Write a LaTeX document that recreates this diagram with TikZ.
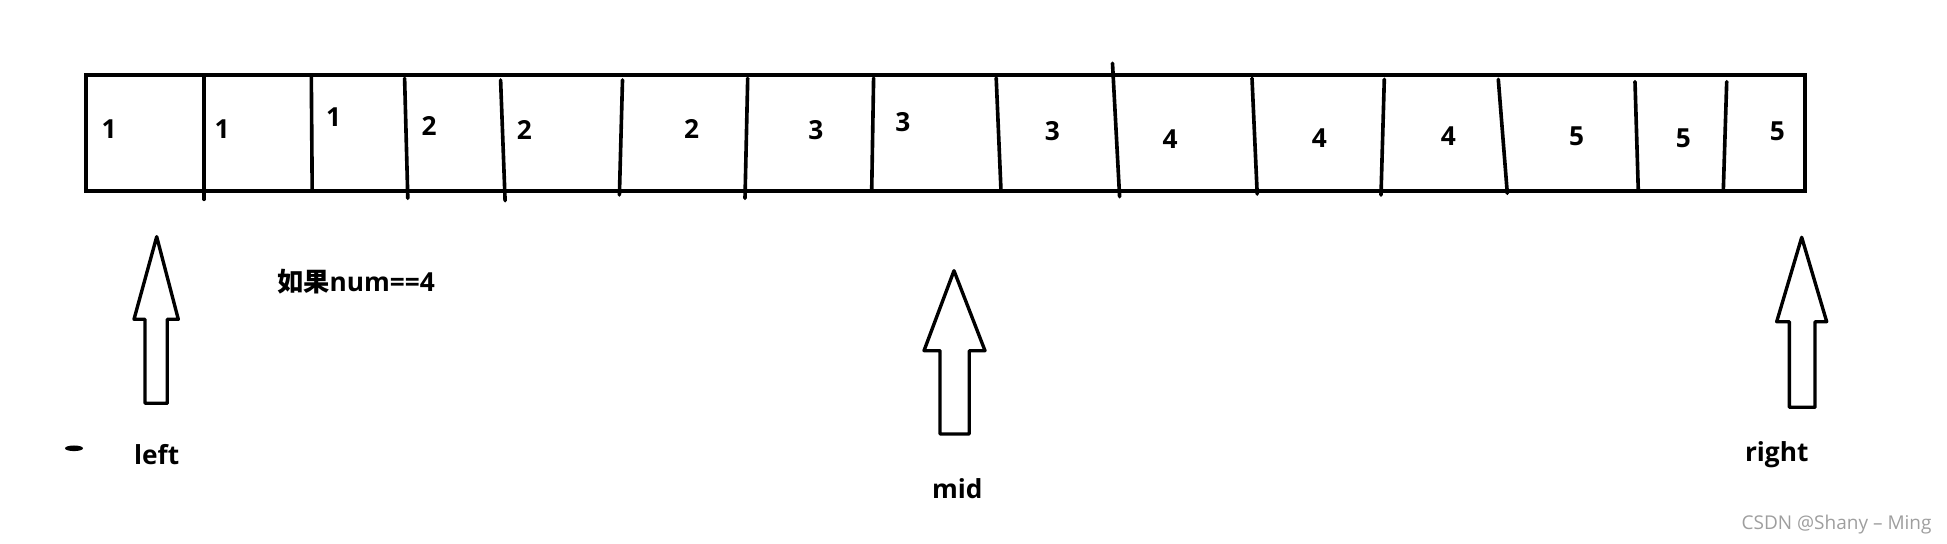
\documentclass[tikz,border=0pt]{standalone}
\usepackage{fontspec}
\setmainfont{Open Sans}
\newfontfamily\cjk{Noto Sans CJK SC}
\begin{document}
\begin{tikzpicture}[x=0.4pt,y=-0.4pt,
  boxline/.style={line width=1.45pt},
  divider/.style={line width=1.45pt, line cap=round},
  blockarrow/.style={line width=1.35pt, line join=round},
  digit/.style={inner sep=0pt, font=\fontsize{10.5}{12}\selectfont\bfseries},
  pointer/.style={inner sep=0pt, anchor=base, font=\fontsize{10.5}{12}\selectfont\bfseries}]
\useasboundingbox (0,0) rectangle (1947,544);
% array box
\draw[boxline] (86,75) rectangle (1805,191);
% dividers
\draw[divider] (204.2,75) -- (204.2,199.3);
\draw[divider] (311.3,75) -- (312.2,191);
\draw[divider] (404.6,78.3) -- (407.8,198.3);
\draw[divider] (500.6,80) -- (505.1,200.7);
\draw[divider] (622.5,80) -- (619.4,195);
\draw[divider] (747.7,78.3) -- (745,198.3);
\draw[divider] (873.6,78) -- (871.7,191);
\draw[divider] (996.2,78) -- (1001,191);
\draw[divider] (1112.5,63.3) -- (1119.6,196.7);
\draw[divider] (1252,78.3) -- (1257.2,194);
\draw[divider] (1384.3,79.3) -- (1381,195);
\draw[divider] (1498.3,79.3) -- (1507.3,193.3);
\draw[divider] (1635,81.7) -- (1638.3,191);
\draw[divider] (1726.7,81.7) -- (1723.3,191);
% values
\node[digit] (v1)  at (109.1,129.3) {1};
\node[digit] (v2)  at (222,129.3) {1};
\node[digit] (v3)  at (333.7,116.7) {1};
\node[digit] (v4)  at (429.2,126) {2};
\node[digit] (v5)  at (524.3,130) {2};
\node[digit] (v6)  at (691.7,129.3) {2};
\node[digit] (v7)  at (815.9,130) {3};
\node[digit] (v8)  at (902.9,121.7) {3};
\node[digit] (v9)  at (1052.4,130.7) {3};
\node[digit] (v10) at (1170.2,139.3) {4};
\node[digit] (v11) at (1319.3,138.3) {4};
\node[digit] (v12) at (1448.3,136) {4};
\node[digit] (v13) at (1576.7,136) {5};
\node[digit] (v14) at (1683.3,138.3) {5};
\node[digit] (v15) at (1777.3,131.7) {5};
% block arrows
\draw[blockarrow] (156.7,236.7) -- (178.3,319.3) -- (167.3,319.3) -- (167.3,403.3)
  -- (145,403.3) -- (145,319.3) -- (134,319.3) -- cycle;
\draw[blockarrow] (954,270.7) -- (985,350.7) -- (969.3,350.7) -- (969.3,434)
  -- (940,434) -- (940,350.7) -- (924,350.7) -- cycle;
\draw[blockarrow] (1801.7,237.3) -- (1826.7,321.7) -- (1815,321.7) -- (1815,407.3)
  -- (1789.3,407.3) -- (1789.3,321.7) -- (1776.7,321.7) -- cycle;
% labels
\node[pointer] (lleft)  at (156.7,465) {left};
\node[pointer] (lmid)   at (957.3,498.3) {mid};
\node[pointer] (lright) at (1776.7,461.7) {right};
\node[inner sep=0pt, anchor=base west, font=\fontsize{10.5}{12}\selectfont\bfseries] (cond) at (276.7,291.7) {{\cjk\bfseries 如果}num==4};
% stray mark
\fill (74,448.3) ellipse [x radius=9, y radius=2.8];
% watermark
\node[inner sep=0pt, anchor=base east, text=black!38, font=\fontsize{7.6}{9}\selectfont] (wm) at (1932,530) {CSDN @Shany -- Ming};
\end{tikzpicture}
\end{document}
